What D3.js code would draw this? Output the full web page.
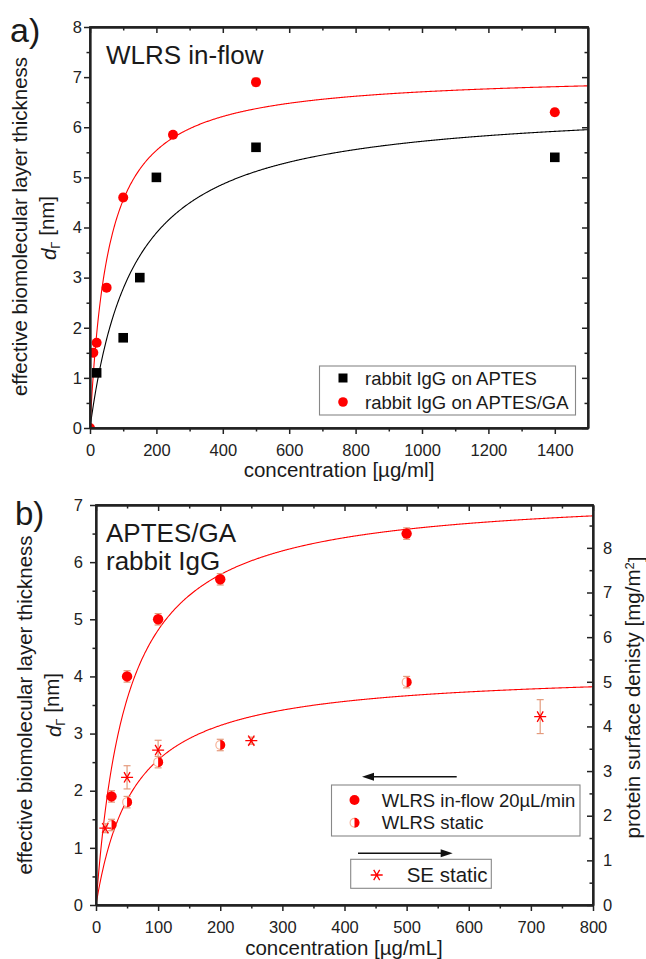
<!DOCTYPE html>
<html><head><meta charset="utf-8">
<script src="https://cdn.jsdelivr.net/npm/d3@7"></script>
<style>
body{margin:0;background:#fff;}
svg{display:block;font-family:"Liberation Sans",Arial,sans-serif;}
</style></head><body>
<svg id="fig" width="646" height="959"></svg>
<script>
// ---- Panel a: WLRS in-flow (concentration µg/ml, thickness nm) ----
const concAptes = [20, 100, 150, 200, 500, 1400];
const thickAptes = [1.1, 1.8, 3.0, 5.0, 5.6, 5.4];
const concAptesGA = [0, 10, 20, 50, 100, 250, 500, 1400];
const thickAptesGA = [0, 1.5, 1.7, 2.8, 4.6, 5.85, 6.9, 6.3];
const errAptesGA = [0, 0.05, 0.05, 0.06, 0.07, 0.06, 0.08, 0.07];
// Langmuir fits: [d_max (nm), K (µg/ml)]
const fitAptes = [6.48, 133];
const fitAptesGA = [7.08, 55.7];
const xTicksA = [0, 200, 400, 600, 800, 1000, 1200, 1400];
const yTicksA = [0, 1, 2, 3, 4, 5, 6, 7, 8];
const legendA = ["rabbit IgG on APTES", "rabbit IgG on APTES/GA"];

// ---- Panel b: APTES/GA, rabbit IgG (concentration µg/mL) ----
const concFlow = [25, 50, 100, 200, 500];
const thickFlow = [1.9, 4.0, 5.0, 5.7, 6.5];
const errFlow = [0.1, 0.1, 0.1, 0.1, 0.1];
const concStatic = [25, 50, 100, 200, 500];
const thickStatic = [1.4, 1.8, 2.5, 2.8, 3.9];
const errStatic = [0.1, 0.1, 0.1, 0.1, 0.1];
const concSE = [15, 50, 100, 250, 715];
const densitySE = [1.72, 2.86, 3.47, 3.68, 4.22];   // mg/m²
const errSE = [0.1, 0.26, 0.22, 0.08, 0.38];
const fitFlow = [7.24, 50.5];
const fitStatic = [4.115, 62];
const densityPerNm = 1.28;                            // mg/m² per nm
const xTicksB = [0, 100, 200, 300, 400, 500, 600, 700, 800];
const yTicksB = [0, 1, 2, 3, 4, 5, 6, 7];
const yTicksBRight = [0, 1, 2, 3, 4, 5, 6, 7, 8];
const legendB = ["WLRS in-flow 20\u00B5L/min", "WLRS static"];
const legendSE = "SE static";

const RED = "#ff0000", AXIS = "#222", ERR = "#e49a7c";
const svg = d3.select("#fig");
const langmuir = (p) => (c) => p[0] * c / (p[1] + c);

function minorOf(major, step) {
  const out = [];
  for (let i = 0; i < major.length - 1; i++) out.push(major[i] + step);
  return out;
}

function drawFrame(g, x, y, xMajor, xMinorStep, xMax, yMajor, yMinorStep, yMax, xPad, yPad, rightAxis) {
  const [x0, x1] = x.range(), [y0, y1] = y.range();
  const xMinor = minorOf(xMajor.concat(xMajor[xMajor.length-1] < xMax ? [xMax] : []), xMinorStep).filter(v => !xMajor.includes(v) && v < xMax);
  const yMinor = minorOf(yMajor.concat(yMajor[yMajor.length-1] < yMax ? [yMax] : []), yMinorStep).filter(v => !yMajor.includes(v) && v < yMax);
  const style = (a) => {
    a.selectAll("path.domain").attr("stroke", AXIS).attr("stroke-width", 1.8);
    a.selectAll(".tick line").attr("stroke", AXIS).attr("stroke-width", 1.5);
    a.selectAll(".tick text").attr("fill", "#222").style("font-size", "16.5px").style("font-family", '"Liberation Sans",Arial,sans-serif');
  };
  // bottom
  g.append("g").attr("transform", `translate(0,${y0})`)
    .call(d3.axisBottom(x).tickValues(xMajor).tickSize(6).tickSizeOuter(0).tickPadding(10).tickFormat(d3.format("d"))).call(style);
  g.append("g").attr("transform", `translate(0,${y0})`)
    .call(d3.axisBottom(x).tickValues(xMinor).tickSize(3.5).tickSizeOuter(0).tickFormat("")).call(style);
  // top (inward)
  g.append("g").attr("transform", `translate(0,${y1})`)
    .call(d3.axisTop(x).tickValues(xMajor).tickSize(-6).tickSizeOuter(0).tickFormat("")).call(style);
  g.append("g").attr("transform", `translate(0,${y1})`)
    .call(d3.axisTop(x).tickValues(xMinor).tickSize(-3.5).tickSizeOuter(0).tickFormat("")).call(style);
  // left
  g.append("g").attr("transform", `translate(${x0},0)`)
    .call(d3.axisLeft(y).tickValues(yMajor).tickSize(6).tickSizeOuter(0).tickPadding(yPad).tickFormat(d3.format("d"))).call(style);
  g.append("g").attr("transform", `translate(${x0},0)`)
    .call(d3.axisLeft(y).tickValues(yMinor).tickSize(3.5).tickSizeOuter(0).tickFormat("")).call(style);
  if (!rightAxis) {
    g.append("g").attr("transform", `translate(${x1},0)`)
      .call(d3.axisRight(y).tickValues(yMajor).tickSize(-6).tickSizeOuter(0).tickFormat("")).call(style);
    g.append("g").attr("transform", `translate(${x1},0)`)
      .call(d3.axisRight(y).tickValues(yMinor).tickSize(-3.5).tickSizeOuter(0).tickFormat("")).call(style);
  }
  // close the frame corners
  g.append("rect").attr("x", x0).attr("y", y1).attr("width", x1 - x0).attr("height", y0 - y1)
    .attr("fill", "none").attr("stroke", AXIS).attr("stroke-width", 1.8);
}

function rotLabel(parent, x, y, size) {
  return parent.append("text").attr("transform", `translate(${x},${y}) rotate(-90)`)
    .attr("text-anchor", "middle").style("font-size", size + "px").attr("fill", "#1a1a1a");
}
function dGammaLabel(parent, x, y) {
  const t = rotLabel(parent, x, y, 20.5);
  t.append("tspan").style("font-style", "italic").text("d");
  t.append("tspan").attr("dy", "0.3em").style("font-size", "13px").text("\u0393");
  t.append("tspan").attr("dy", "-0.3em").text(" [nm]");
}

function errorBars(g, xs, ys, es, x, y, color) {
  xs.forEach((c, i) => {
    if (!es[i]) return;
    const px = x(c), ya = y(ys[i] + es[i]), yb = y(ys[i] - es[i]);
    g.append("line").attr("x1", px).attr("x2", px).attr("y1", ya).attr("y2", yb).attr("stroke", color).attr("stroke-width", 1.2);
    [ya, yb].forEach(v => g.append("line").attr("x1", px - 3.5).attr("x2", px + 3.5).attr("y1", v).attr("y2", v).attr("stroke", color).attr("stroke-width", 1.2));
  });
}

function asterisk(g, cx, cy, r, color) {
  const p = d3.path();
  [0, 60, 120].forEach(a => {
    const t = a * Math.PI / 180;
    p.moveTo(cx - r * Math.cos(t), cy - r * Math.sin(t));
    p.lineTo(cx + r * Math.cos(t), cy + r * Math.sin(t));
  });
  g.append("path").attr("d", p.toString()).attr("stroke", color).attr("stroke-width", 1.3).attr("fill", "none");
}
function halfCircle(g, cx, cy, r) {
  g.append("circle").attr("cx", cx).attr("cy", cy).attr("r", r - 0.6).attr("fill", "#fff").attr("stroke", "#f7b49a").attr("stroke-width", 1.2);
  const p = d3.path();
  p.moveTo(cx, cy - r); p.arc(cx, cy, r, -Math.PI / 2, Math.PI / 2); p.closePath();
  g.append("path").attr("d", p.toString()).attr("fill", RED);
}
function arrow(g, xFrom, xTo, yy) {
  const dir = Math.sign(xTo - xFrom);
  g.append("line").attr("x1", xFrom).attr("x2", xTo - dir * 8).attr("y1", yy).attr("y2", yy).attr("stroke", "#111").attr("stroke-width", 1.4);
  g.append("path").attr("d", `M${xTo},${yy} L${xTo - dir * 12},${yy - 4} L${xTo - dir * 12},${yy + 4} Z`).attr("fill", "#111");
}

// ================= Panel a =================
{
  const x = d3.scaleLinear().domain([0, 1500]).range([90, 588]);
  const y = d3.scaleLinear().domain([0, 8]).range([428, 27]);
  const g = svg.append("g");
  g.append("clipPath").attr("id", "clipA").append("rect").attr("x", 90).attr("y", 27).attr("width", 498).attr("height", 401);
  const plot = g.append("g").attr("clip-path", "url(#clipA)");

  const line = d3.line().x(d => x(d[0])).y(d => y(d[1]));
  const cs = d3.range(0, 1500.5, 2);
  plot.append("path").datum(cs.map(c => [c, langmuir(fitAptes)(c)])).attr("d", line)
    .attr("fill", "none").attr("stroke", "#000").attr("stroke-width", 1.1);
  plot.append("path").datum(cs.map(c => [c, langmuir(fitAptesGA)(c)])).attr("d", line)
    .attr("fill", "none").attr("stroke", RED).attr("stroke-width", 1.1);

  errorBars(plot, concAptesGA, thickAptesGA, errAptesGA, x, y, ERR);
  concAptes.forEach((c, i) => plot.append("rect").attr("x", x(c) - 4.8).attr("y", y(thickAptes[i]) - 4.8)
    .attr("width", 9.6).attr("height", 9.6).attr("fill", "#000"));
  concAptesGA.forEach((c, i) => plot.append("circle").attr("cx", x(c)).attr("cy", y(thickAptesGA[i])).attr("r", 5).attr("fill", RED));

  drawFrame(g, x, y, xTicksA, 100, 1500, yTicksA, 0.5, 8, 10, 2, false);

  g.append("text").attr("x", 10).attr("y", 42).style("font-size", "34px").attr("fill", "#1a1a1a").text("a)");
  g.append("text").attr("x", 106).attr("y", 64).style("font-size", "26px").attr("fill", "#1a1a1a").text("WLRS in-flow");
  rotLabel(g, 27, 226.5, 20.5).text("effective biomolecular layer thickness");
  dGammaLabel(g, 56, 228);
  g.append("text").attr("x", 339).attr("y", 477).attr("text-anchor", "middle").style("font-size", "20.5px").attr("fill", "#1a1a1a").text("concentration [\u00B5g/ml]");

  // legend
  g.append("rect").attr("x", 319.5).attr("y", 366).attr("width", 256).attr("height", 49).attr("fill", "#fff").attr("stroke", "#888").attr("stroke-width", 1.1);
  g.append("rect").attr("x", 343 - 4.5).attr("y", 378 - 4.5).attr("width", 9).attr("height", 9).attr("fill", "#000");
  g.append("circle").attr("cx", 343).attr("cy", 402).attr("r", 4.8).attr("fill", RED);
  legendA.forEach((t, i) => g.append("text").attr("x", 365).attr("y", 384.5 + i * 24).style("font-size", "18.5px").attr("fill", "#1a1a1a").text(t));
}

// ================= Panel b =================
{
  const x = d3.scaleLinear().domain([0, 800]).range([96, 593]);
  const y = d3.scaleLinear().domain([0, 7]).range([905, 505]);
  const yR = d3.scaleLinear().domain([0, 7 * densityPerNm]).range([905, 505]);
  const g = svg.append("g");
  g.append("clipPath").attr("id", "clipB").append("rect").attr("x", 96).attr("y", 505).attr("width", 497).attr("height", 400);
  const plot = g.append("g").attr("clip-path", "url(#clipB)");

  const line = d3.line().x(d => x(d[0])).y(d => y(d[1]));
  const cs = d3.range(0, 800.5, 1);
  plot.append("path").datum(cs.map(c => [c, langmuir(fitFlow)(c)])).attr("d", line)
    .attr("fill", "none").attr("stroke", RED).attr("stroke-width", 1.1);
  plot.append("path").datum(cs.map(c => [c, langmuir(fitStatic)(c)])).attr("d", line)
    .attr("fill", "none").attr("stroke", RED).attr("stroke-width", 1.1);

  errorBars(plot, concFlow, thickFlow, errFlow, x, y, ERR);
  errorBars(plot, concStatic, thickStatic, errStatic, x, y, ERR);
  errorBars(plot, concSE, densitySE, errSE, x, yR, ERR);
  concFlow.forEach((c, i) => plot.append("circle").attr("cx", x(c)).attr("cy", y(thickFlow[i])).attr("r", 5.2).attr("fill", RED));
  concStatic.forEach((c, i) => halfCircle(plot, x(c), y(thickStatic[i]), 5));
  concSE.forEach((c, i) => asterisk(plot, x(c), yR(densitySE[i]), 6, RED));

  drawFrame(g, x, y, xTicksB, 50, 800, yTicksB, 0.5, 7, 10, 7, true);
  // right axis: protein surface density
  const style = (a) => {
    a.selectAll("path.domain").attr("stroke", AXIS).attr("stroke-width", 1.8);
    a.selectAll(".tick line").attr("stroke", AXIS).attr("stroke-width", 1.5);
    a.selectAll(".tick text").attr("fill", "#222").style("font-size", "16.5px");
  };
  g.append("g").attr("transform", "translate(593,0)")
    .call(d3.axisRight(yR).tickValues(yTicksBRight).tickSize(-6).tickSizeOuter(0).tickPadding(10).tickFormat(d3.format("d"))).call(style);
  g.append("g").attr("transform", "translate(593,0)")
    .call(d3.axisRight(yR).tickValues(yTicksBRight.map(v => v + 0.5)).tickSize(-3.5).tickSizeOuter(0).tickFormat("")).call(style);

  g.append("text").attr("x", 15).attr("y", 525).style("font-size", "33px").attr("fill", "#1a1a1a").text("b)");
  g.append("text").attr("x", 106).attr("y", 541.5).style("font-size", "26px").attr("fill", "#1a1a1a").text("APTES/GA");
  g.append("text").attr("x", 106).attr("y", 570).style("font-size", "26px").attr("fill", "#1a1a1a").text("rabbit IgG");
  rotLabel(g, 31.5, 705, 20.5).text("effective biomolecular layer thickness");
  dGammaLabel(g, 61, 705);
  const rt = rotLabel(g, 639.5, 697.5, 20.5);
  rt.append("tspan").text("protein surface denisty [mg/m");
  rt.append("tspan").attr("dy", "-0.45em").style("font-size", "13px").text("2");
  rt.append("tspan").attr("dy", "0.45em").text("]");
  g.append("text").attr("x", 344).attr("y", 955).attr("text-anchor", "middle").style("font-size", "20.5px").attr("fill", "#1a1a1a").text("concentration [\u00B5g/mL]");

  // legends with axis-direction arrows
  arrow(g, 456.7, 362, 776.7);
  g.append("rect").attr("x", 331.5).attr("y", 785).attr("width", 248.5).attr("height", 51).attr("fill", "#fff").attr("stroke", "#888").attr("stroke-width", 1.1);
  g.append("circle").attr("cx", 354.5).attr("cy", 800).attr("r", 5).attr("fill", RED);
  halfCircle(g, 354.5, 822.7, 5);
  legendB.forEach((t, i) => g.append("text").attr("x", 381.7).attr("y", 806.5 + i * 22.7).style("font-size", "18.5px").attr("fill", "#1a1a1a").text(t));

  arrow(g, 358, 452.7, 853.3);
  g.append("rect").attr("x", 350.7).attr("y", 859.3).attr("width", 140.6).attr("height", 29).attr("fill", "#fff").attr("stroke", "#888").attr("stroke-width", 1.1);
  asterisk(g, 376.7, 875, 6, RED);
  g.append("text").attr("x", 406.7).attr("y", 882).style("font-size", "20.5px").attr("fill", "#1a1a1a").text(legendSE);
}
</script>
</body></html>
